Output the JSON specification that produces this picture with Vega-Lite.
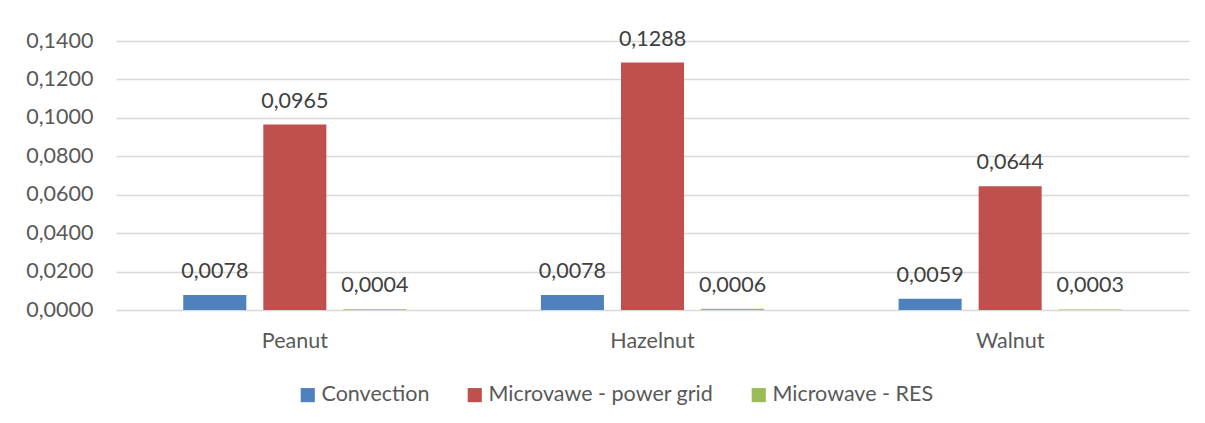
{
  "$schema": "https://vega.github.io/schema/vega-lite/v6.json",
  "width": 1073,
  "height": 269,
  "autosize": {"type": "none"},
  "padding": {"left": 116, "top": 41, "right": 16, "bottom": 113},
  "background": "white",
  "config": {
    "view": {"stroke": null},
    "font": "Lato",
    "locale": {
      "number": {"decimal": ",", "thousands": ".", "grouping": [3], "currency": ["", " €"]},
      "time": {"dateTime": "%x, %X", "date": "%d.%m.%Y", "time": "%H:%M:%S", "periods": ["AM", "PM"], "days": ["Sunday", "Monday", "Tuesday", "Wednesday", "Thursday", "Friday", "Saturday"], "shortDays": ["Sun", "Mon", "Tue", "Wed", "Thu", "Fri", "Sat"], "months": ["January", "February", "March", "April", "May", "June", "July", "August", "September", "October", "November", "December"], "shortMonths": ["Jan", "Feb", "Mar", "Apr", "May", "Jun", "Jul", "Aug", "Sep", "Oct", "Nov", "Dec"]}
    }
  },
  "data": {
    "values": [
      {"nut": "Peanut", "series": "Convection", "value": 0.0078},
      {"nut": "Peanut", "series": "Microvawe - power grid", "value": 0.0965},
      {"nut": "Peanut", "series": "Microwave - RES", "value": 0.0004},
      {"nut": "Hazelnut", "series": "Convection", "value": 0.0078},
      {"nut": "Hazelnut", "series": "Microvawe - power grid", "value": 0.1288},
      {"nut": "Hazelnut", "series": "Microwave - RES", "value": 0.0006},
      {"nut": "Walnut", "series": "Convection", "value": 0.0059},
      {"nut": "Walnut", "series": "Microvawe - power grid", "value": 0.0644},
      {"nut": "Walnut", "series": "Microwave - RES", "value": 0.0003}
    ]
  },
  "encoding": {
    "x": {
      "field": "nut", "type": "nominal", "sort": ["Peanut", "Hazelnut", "Walnut"],
      "scale": {"paddingInner": 0, "paddingOuter": 0},
      "axis": {"title": null, "labelAngle": 0, "domain": false, "ticks": false, "labelFontSize": 21.5, "labelColor": "#595959", "labelPadding": 20}
    },
    "xOffset": {
      "field": "series", "type": "nominal",
      "sort": ["Convection", "Microvawe - power grid", "Microwave - RES"],
      "scale": {"paddingInner": 0.2125, "paddingOuter": 0.84}
    },
    "y": {
      "field": "value", "type": "quantitative",
      "scale": {"domain": [0, 0.14], "nice": false},
      "axis": {"title": null, "values": [0, 0.02, 0.04, 0.06, 0.08, 0.1, 0.12, 0.14], "format": ".4f", "domain": false, "ticks": false, "gridColor": "#D9D9D9", "gridWidth": 1.5, "labelPadding": 23, "labelFontSize": 21.5, "labelColor": "#595959"}
    }
  },
  "layer": [
    {
      "mark": {"type": "bar"},
      "encoding": {
        "color": {
          "field": "series", "type": "nominal",
          "sort": ["Convection", "Microvawe - power grid", "Microwave - RES"],
          "scale": {"domain": ["Convection", "Microvawe - power grid", "Microwave - RES"], "range": ["#4F81BD", "#C0504D", "#9BBB59"]},
          "legend": {
            "title": null, "orient": "none", "direction": "horizontal",
            "legendX": 181, "legendY": 343,
            "symbolType": "square", "symbolSize": 200, "symbolStrokeWidth": 0,
            "labelFontSize": 21.5, "labelColor": "#595959", "labelOffset": 3,
            "columnPadding": 34, "labelLimit": 400
          }
        }
      }
    },
    {
      "mark": {"type": "text", "baseline": "alphabetic", "dy": -17, "fontSize": 21.5, "color": "#404040"},
      "encoding": {"text": {"field": "value", "type": "quantitative", "format": ".4f"}}
    }
  ]
}
